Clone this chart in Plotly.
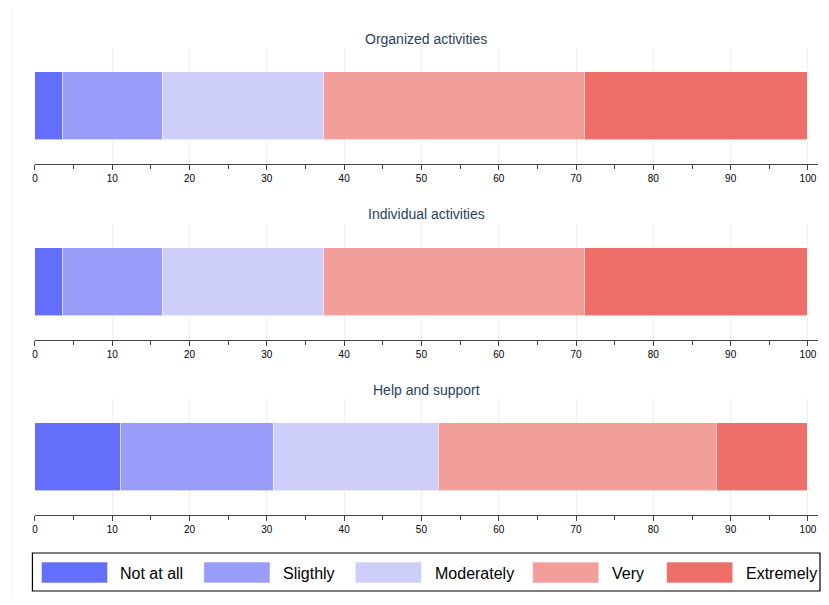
import plotly.graph_objects as go
from plotly.subplots import make_subplots

categories = ["Organized activities", "Individual activities", "Help and support"]
levels = ["Not at all", "Sligthly", "Moderately", "Very", "Extremely"]
colors = ["#636EFA", "#999CF8", "#CDCEFA", "#F29F9C", "#EE6F6A"]

not_at_all = [3.6, 3.6, 11.1]
slightly = [13.0, 13.0, 19.8]
moderately = [20.8, 20.8, 21.3]
very = [33.8, 33.8, 36.0]
extremely = [28.8, 28.8, 11.8]
series = [not_at_all, slightly, moderately, very, extremely]

OFFX, OFFY = 10, 8  # page offset of the figure
W, H = 829 - 16, 605 - 16


def px(x):
    return (x - OFFX) / W


def py(y):
    return 1 - (y - OFFY) / H


fig = make_subplots(rows=3, cols=1)

for r, cat in enumerate(categories):
    for i, lvl in enumerate(levels):
        fig.add_trace(
            go.Bar(
                x=[series[i][r]], y=[cat], orientation="h", name=lvl,
                marker=dict(color=colors[i], line=dict(color="rgba(255,255,255,0.6)", width=1)),
                width=0.59, showlegend=False,
            ),
            row=r + 1, col=1,
        )

# plot-area pixel bands (top, bottom) for each panel, in page pixels
bands = [(48, 164), (224, 340), (399, 515)]
title_y = [39, 214, 390]
x0, x1 = px(34), px(820)

for r, (top, bot) in enumerate(bands):
    xa = "xaxis" if r == 0 else f"xaxis{r+1}"
    ya = "yaxis" if r == 0 else f"yaxis{r+1}"
    fig.layout[xa].update(
        domain=[x0, x1], range=[0, 101.3], dtick=10, tick0=0,
        ticks="outside", ticklen=5, tickcolor="#444", tickwidth=1,
        showline=True, linecolor="#444", linewidth=1,
        showgrid=True, gridcolor="#EBF0F8", gridwidth=1, zeroline=False,
        tickfont=dict(family="Arial", size=10, color="#000"),
        minor=dict(dtick=5, ticks="outside", ticklen=4, tickcolor="#444", showgrid=False),
        fixedrange=True,
    )
    fig.layout[ya].update(
        domain=[py(bot), py(top)], range=[-0.5, 0.5],
        showticklabels=False, showgrid=False, zeroline=False, showline=False, ticks="",
    )
    fig.add_annotation(
        text=categories[r], xref="paper", yref="paper",
        x=(x0 + x1) / 2, y=py(title_y[r]), xanchor="center", yanchor="middle",
        showarrow=False, font=dict(family="Arial", size=14, color="#2a3f5f"),
    )

# legend drawn as paper shapes
shapes = [
    dict(type="rect", xref="paper", yref="paper", x0=px(31.5), x1=px(822),
         y0=py(591), y1=py(553), line=dict(color="#000", width=1.2), fillcolor="white", layer="below"),
    dict(type="line", xref="paper", yref="paper", x0=px(10.5), x1=px(10.5),
         y0=0, y1=1, line=dict(color="rgba(0,0,0,0.04)", width=1), layer="below"),
]
sw_x = [40.5, 203.5, 355.5, 533.5, 668]
tx_x = [117.5, 280.5, 433.5, 611.5, 746]
for i, lvl in enumerate(levels):
    shapes.append(dict(type="rect", xref="paper", yref="paper",
                       x0=px(sw_x[i]), x1=px(sw_x[i] + 66.5),
                       y0=py(583), y1=py(562),
                       fillcolor=colors[i], line=dict(color="rgba(255,255,255,0.6)", width=1)))
    fig.add_annotation(text=lvl, xref="paper", yref="paper", x=px(tx_x[i]), y=py(573),
                       xanchor="left", yanchor="middle", showarrow=False,
                       font=dict(family="Arial", size=16, color="#000"))

fig.update_layout(
    width=W, height=H, barmode="stack", showlegend=False,
    margin=dict(l=0, r=0, t=0, b=0),
    paper_bgcolor="white", plot_bgcolor="white",
    shapes=shapes, bargap=0,
)

fig.write_html("out.html")
